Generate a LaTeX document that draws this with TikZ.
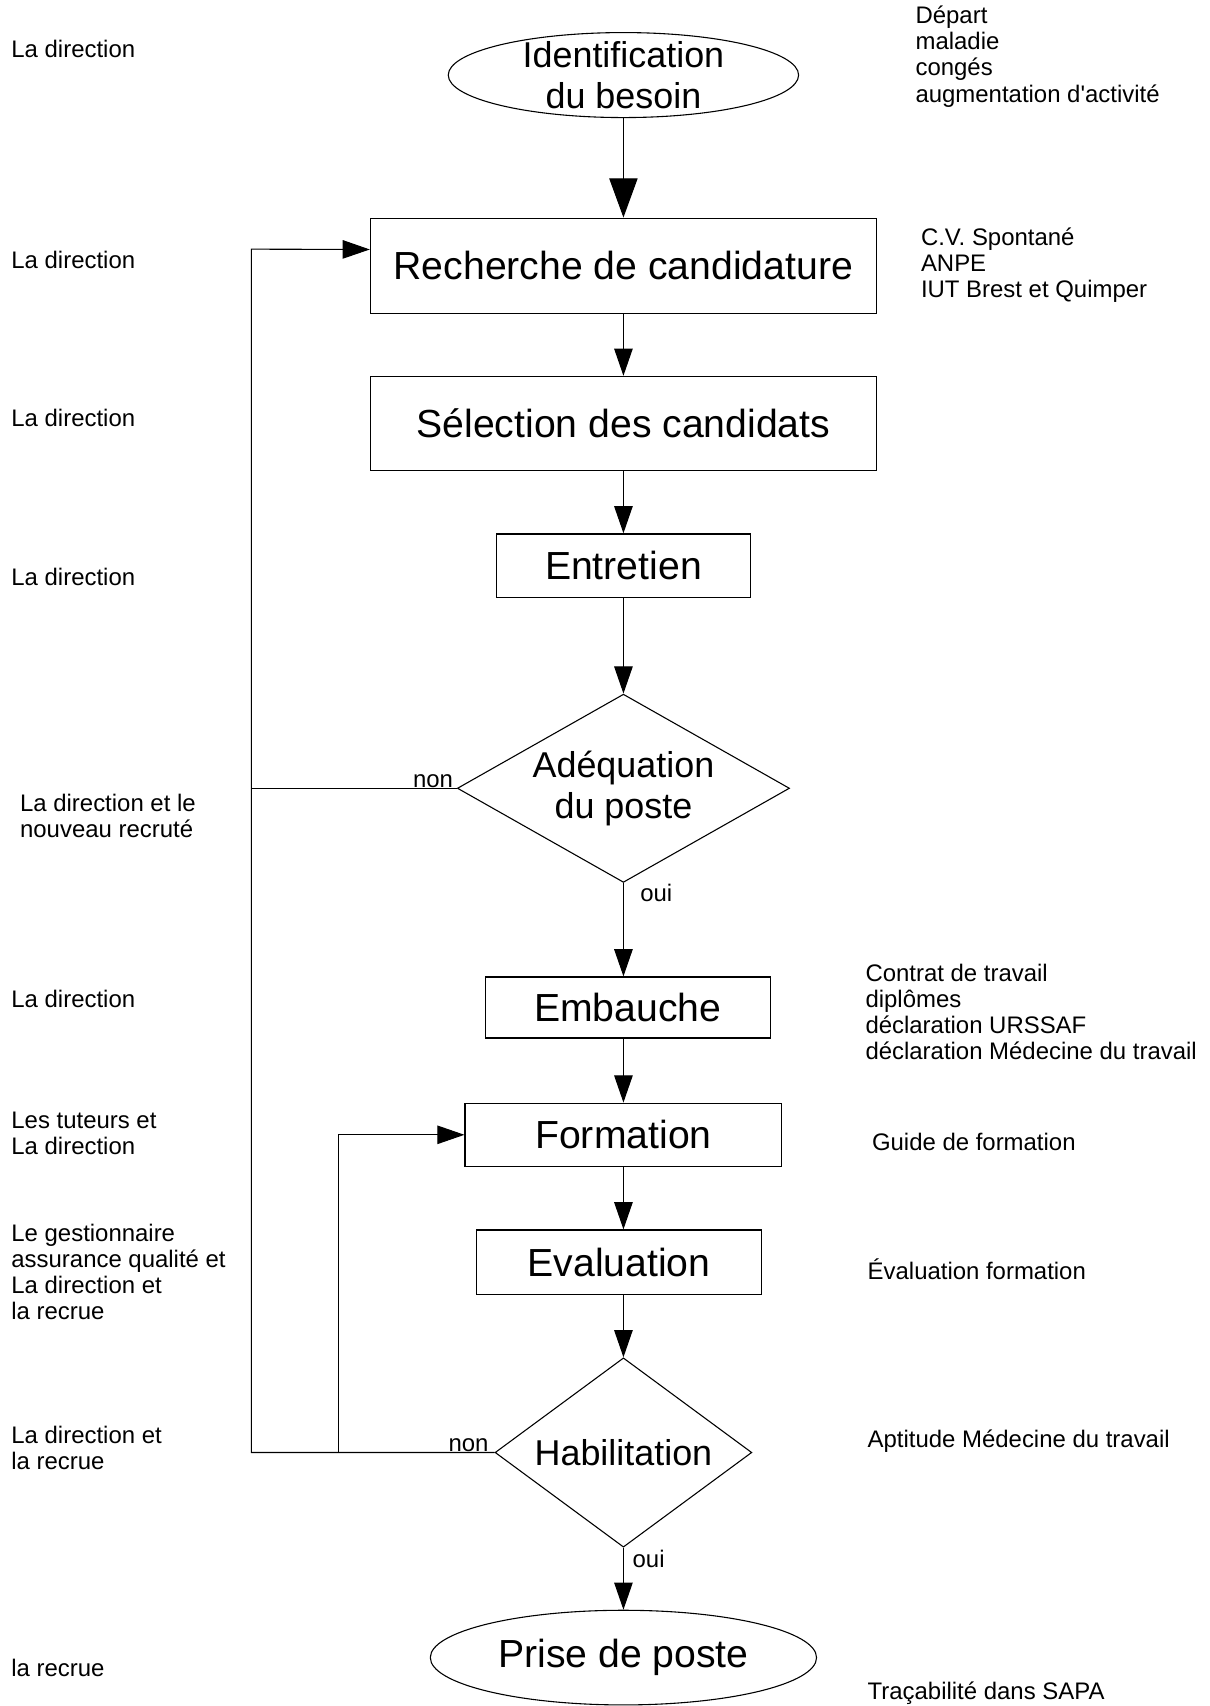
\documentclass[tikz,border=0pt]{standalone}
\usepackage{fontspec}
\setmainfont{Liberation Sans}
\usetikzlibrary{positioning}
\usetikzlibrary{shapes.geometric}
\usetikzlibrary{arrows.meta}
\newcommand{\stepfont}{\fontsize{36pt}{41pt}\selectfont}
\newcommand{\askfont}{\fontsize{33pt}{38pt}\selectfont}
\newcommand{\sidefont}{\fontsize{22pt}{24pt}\selectfont}
\tikzset{stepbox/.style={draw, rectangle, inner sep=0pt, font=\stepfont, line width=1.2pt}}
\tikzset{term/.style={draw, ellipse, inner sep=0pt, align=center}}
\tikzset{ask/.style={draw, diamond, inner sep=0pt, align=center, font=\askfont}}
\tikzset{side/.style={anchor=west, inner sep=0pt, align=left, font=\sidefont}}
\tikzset{lbl/.style={inner sep=0pt, font=\sidefont}}
\tikzset{>={Triangle[length=25pt,width=17pt]}}

\begin{document}
\begin{tikzpicture}[x=1pt, y=-1pt, on grid, line width=1pt]
        \useasboundingbox (0,0) rectangle (1112,1568);
        \coordinate (axis) at (573,0);

        \node[term, font=\askfont, minimum width=322pt, inner ysep=-3.5pt] (ident) at (573,69) {Identification\\du besoin};
        \node[stepbox, below=175.3pt of ident, minimum width=465pt, minimum height=87.5pt] (rech) {Recherche de candidature};
        \node[stepbox, below=145pt of rech, minimum width=465pt, minimum height=86.6pt] (sel) {Sélection des candidats};
        \node[stepbox, below=130.7pt of sel, minimum width=233pt, minimum height=58.5pt] (entr) {Entretien};
        \node[ask, below=204.5pt of entr, aspect=2, minimum width=304pt, minimum height=173pt] (adeq) {Adéquation\\du poste};
        \node[stepbox, below=201.5pt of adeq, xshift=4pt, minimum width=262pt, minimum height=56pt] (emb) {Embauche};
        \node[stepbox, below=117pt of emb, xshift=-4pt, minimum width=291pt, minimum height=58pt] (form) {Formation};
        \node[stepbox, below=117pt of form, xshift=-4pt, minimum width=262pt, minimum height=59pt] (eval) {Evaluation};
        \node[ask, below=175pt of eval, xshift=4pt, aspect=1.36, minimum width=236pt, minimum height=174pt] (habil) {Habilitation};
        \node[term, font=\stepfont, below=188.5pt of habil, minimum width=355pt, minimum height=87pt] (prise) {Prise de poste};

        \draw[-{Triangle[length=36pt,width=26pt]}] (ident) -- (rech);
        \draw[->] (rech) -- (sel);
        \draw[->] (sel) -- (entr);
        \draw[->] (entr) -- (adeq);
        \draw[->] (adeq) -- (emb.north -| axis);
        \draw[->] (emb.south -| axis) -- (form);
        \draw[->] (form) -- (eval.north -| axis);
        \draw[->] (eval.south -| axis) -- (habil);
        \draw[->] (habil) -- (prise);

        \coordinate (rail) at (231,229);
        \coordinate (branch) at (311,0);
        \draw (adeq.west) -- (adeq.west -| rail);
        \draw[->] (habil.west) -| (rail) -- ([yshift=15pt]rech.west);
        \draw[->] (habil.west -| branch) |- (form.west);

        \node[lbl, anchor=south east] (nonA) at ([xshift=-3pt]adeq.west) {non};
        \node[lbl, anchor=south east] (nonH) at ([xshift=-5pt]habil.west) {non};
        \node[lbl, anchor=north west] (ouiA) at ([xshift=15pt, yshift=-1pt]adeq.south) {oui};
        \node[lbl, anchor=north west] (ouiH) at ([xshift=8pt, yshift=-2pt]habil.south) {oui};

        \node[side] (who1) at (10,45) {La direction};
        \node[side] (who2) at (10,239) {La direction};
        \node[side] (who3) at (10,384) {La direction};
        \node[side] (who4) at (10,530) {La direction};
        \node[side] (who5) at (18,750) {La direction et le\\nouveau recruté};
        \node[side] (who6) at (10,918) {La direction};
        \node[side] (who7) at (10,1042) {Les tuteurs et\\La direction};
        \node[side] (who8) at (10,1169) {Le gestionnaire\\assurance qualité et\\La direction et\\la recrue};
        \node[side] (who9) at (10,1331) {La direction et\\la recrue};
        \node[side] (who10) at (10,1533) {la recrue};

        \node[side] (doc1) at (841,52) {Départ\\maladie\\congés\\augmentation d\textquotesingle activité};
        \node[side] (doc2) at (846,244) {C.V. Spontané\\ANPE\\IUT Brest et Quimper};
        \node[side] (doc3) at (795,930) {Contrat de travail\\diplômes\\déclaration URSSAF\\déclaration Médecine du travail};
        \node[side] (doc4) at (801,1050) {Guide de formation};
        \node[side] (doc5) at (797,1167) {Évaluation formation};
        \node[side] (doc6) at (797,1325) {Aptitude Médecine du travail};
        \node[side] (doc7) at (797,1556) {Traçabilité dans SAPA};
    \end{tikzpicture}
\end{document}
